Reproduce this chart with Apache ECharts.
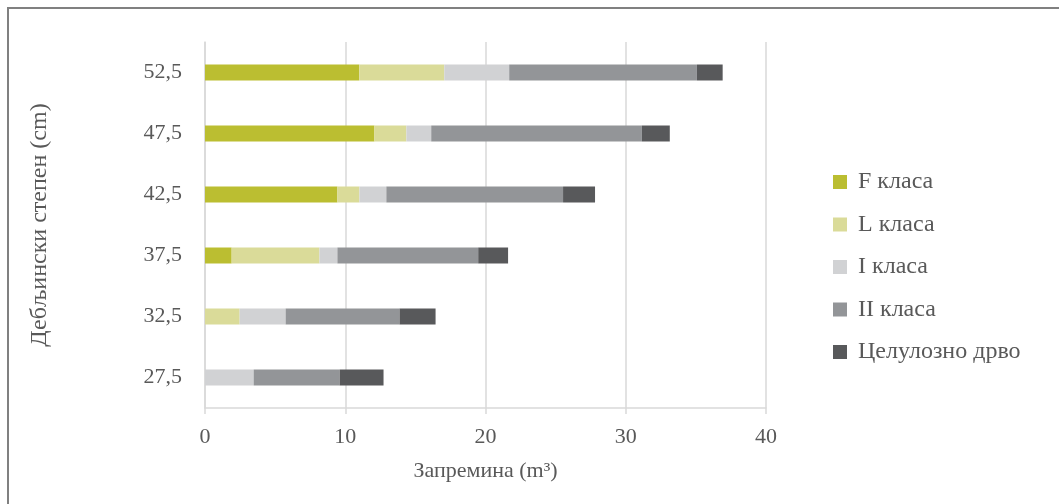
<!DOCTYPE html>
<html>
<head>
<meta charset="utf-8">
<script src="https://cdn.jsdelivr.net/npm/echarts@6/dist/echarts.min.js"></script>
<style>
html,body{margin:0;padding:0;background:#fff;}
#c{width:1059px;height:504px;}
</style>
</head>
<body>
<div id="c"></div>
<script>
const categories = ['27,5','32,5','37,5','42,5','47,5','52,5'];
const seriesNames = ['F класа','L класа','I класа','II класа','Целулозно дрво'];
const fClass   = [0,    0,    1.9,  9.44, 12.08, 11.0];
const lClass   = [0,    2.47, 6.26, 1.57, 2.28,  6.06];
const iClass   = [3.47, 3.28, 1.28, 1.92, 1.77,  4.63];
const iiClass  = [6.13, 8.12, 10.04,12.6, 15.02, 13.38];
const pulpWood = [3.13, 2.57, 2.13, 2.28, 1.99,  1.84];
const xTicks = {min: 0, max: 40, interval: 10};

const colors = ['#BBBE31','#DADB99','#D1D2D4','#939598','#58595B'];
const values = [fClass, lClass, iClass, iiClass, pulpWood];
const font = 'Liberation Serif, Times New Roman, serif';
const txt = '#595959';

const chart = echarts.init(document.getElementById('c'));
chart.setOption({
  animation: false,
  backgroundColor: '#fff',
  textStyle: {fontFamily: font},
  graphic: [{
    type: 'rect', silent: true,
    shape: {x: 8, y: 8, width: 1200, height: 700},
    style: {fill: 'none', stroke: '#808080', lineWidth: 2}
  }],
  grid: {left: 205, right: 293, top: 42, bottom: 96},
  legend: {
    orient: 'vertical', left: 828, top: 165,
    itemWidth: 14, itemHeight: 14, itemGap: 18.5, icon: 'rect',
    textStyle: {fontFamily: font, fontSize: 24, color: txt, padding: [0,0,0,6]},
    data: seriesNames
  },
  xAxis: {
    type: 'value', min: xTicks.min, max: xTicks.max, interval: xTicks.interval,
    name: 'Запремина (m³)', nameLocation: 'middle', nameGap: 52,
    nameTextStyle: {fontFamily: font, fontSize: 22, color: txt},
    axisLine: {show: true, lineStyle: {color: '#D9D9D9', width: 1.5}},
    axisTick: {show: true, length: 6, lineStyle: {color: '#D9D9D9', width: 1.5}},
    axisLabel: {fontFamily: font, fontSize: 22, color: txt, margin: 18},
    splitLine: {show: true, lineStyle: {color: '#D9D9D9', width: 1.5}}
  },
  yAxis: {
    type: 'category', data: categories,
    name: 'Дебљински степен (cm)', nameLocation: 'middle', nameGap: 153,
    nameTextStyle: {fontFamily: font, fontSize: 24, color: txt},
    axisLine: {show: true, lineStyle: {color: '#D9D9D9', width: 1.5}},
    axisTick: {show: false},
    axisLabel: {fontFamily: font, fontSize: 22, color: txt, margin: 23}
  },
  series: seriesNames.map((n, i) => ({
    name: n, type: 'bar', stack: 'total', barWidth: 16,
    itemStyle: {color: colors[i]},
    data: values[i]
  }))
});
</script>
</body>
</html>
